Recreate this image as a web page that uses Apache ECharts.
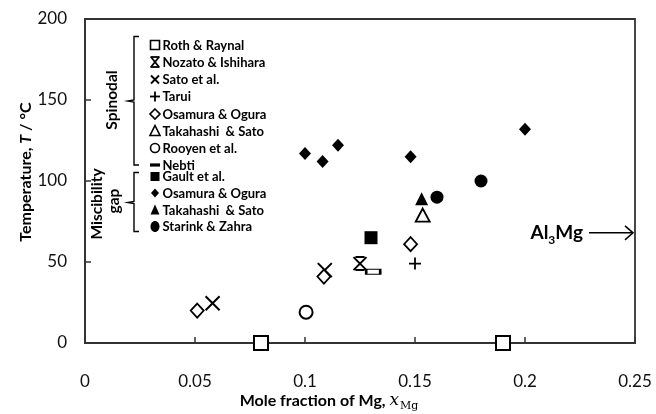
<!DOCTYPE html>
<html><head><meta charset="utf-8">
<script src="https://cdn.jsdelivr.net/npm/echarts@6/dist/echarts.min.js"></script>
<style>html,body{margin:0;padding:0;background:#fff}#c{width:656px;height:414px}</style>
</head><body><div id="c"></div>
<script>
// ---- data (x = mole fraction of Mg, y = temperature °C) ----
const rothRaynal      = [[0.080, 0], [0.190, 0]];
const nozatoIshihara  = [[0.125, 49]];
const satoEtAl        = [[0.058, 24.5], [0.109, 45]];
const tarui           = [[0.150, 49]];
const osamuraSpinodal = [[0.051, 20], [0.1086, 41], [0.148, 61]];
const takahashiSpin   = [[0.1535, 79]];
const rooyenEtAl      = [[0.1005, 19]];
const nebti           = [[0.131, 44]];
const gaultEtAl       = [[0.130, 65]];
const osamuraMisc     = [[0.100, 117], [0.108, 112], [0.115, 122], [0.148, 115], [0.200, 132]];
const takahashiMisc   = [[0.153, 89]];
const starinkZahra    = [[0.160, 90], [0.180, 100]];
const xTicks = [0, 0.05, 0.1, 0.15, 0.2, 0.25];
const yTicks = [0, 50, 100, 150, 200];
const al3MgX = 0.25, al3MgT = 68;

const FONT = 'Lato';
const K = '#000';
const X_PATH = 'path://M0,0L10,10M10,0L0,10';
const PLUS_PATH = 'path://M5,0L5,10M0,5L10,5';
const NOZ_PATH = 'path://M0,0L10,10M10,0L0,10M1.5,0L8.5,0M1.5,10L8.5,10';

function sc(name, data, symbol, size, filled, bw) {
  return {
    type: 'scatter', name, data, symbol, symbolSize: size,
    itemStyle: { color: filled ? K : (symbol.startsWith('path') ? 'rgba(0,0,0,0)' : '#fff'),
                 borderColor: K, borderWidth: filled ? 0 : (bw || 1.8), opacity: 1 },
    emphasis: { disabled: true }, z: 3
  };
}

const series = [
  sc('Roth & Raynal', rothRaynal, 'rect', 14, false, 2),
  sc('Nozato & Ishihara', nozatoIshihara, NOZ_PATH, [13, 13], false, 2),
  sc('Sato et al.', satoEtAl, X_PATH, [14, 14], false, 2),
  sc('Tarui', tarui, PLUS_PATH, [12, 12], false, 1.8),
  sc('Osamura & Ogura (spinodal)', osamuraSpinodal, 'diamond', [13, 14], false, 1.8),
  sc('Takahashi & Sato (spinodal)', takahashiSpin, 'triangle', [14, 13], false, 1.8),
  sc('Rooyen et al.', rooyenEtAl, 'circle', 13, false, 2),
  sc('Nebti', nebti, 'rect', [14, 5], false, 1.6),
  sc('Gault et al.', gaultEtAl, 'rect', 13, true),
  sc('Osamura & Ogura (miscibility)', osamuraMisc, 'diamond', [12, 13], true),
  sc('Takahashi & Sato (miscibility)', takahashiMisc, 'triangle', [13, 13], true),
  sc('Starink & Zahra', starinkZahra, 'circle', 13, true)
];

// legend (drawn as graphics)
const legendEntries = [
  ['Roth & Raynal', 'sqO'], ['Nozato & Ishihara', 'noz'], ['Sato et al.', 'x'], ['Tarui', 'plus'],
  ['Osamura & Ogura', 'diaO'], ['Takahashi  & Sato', 'triO'], ['Rooyen et al.', 'cirO'], ['Nebti', 'dash'],
  ['Gault et al.', 'sqF'], ['Osamura & Ogura', 'diaF'], ['Takahashi  & Sato', 'triF'], ['Starink & Zahra', 'cirF']
];
function legendSymbol(kind, cx, cy) {
  const s = 4.5, st = { stroke: K, lineWidth: 1.6, fill: '#fff' }, fl = { fill: K };
  switch (kind) {
    case 'sqO': return { type: 'rect', shape: { x: cx - s, y: cy - s, width: 2 * s, height: 2 * s }, style: st };
    case 'sqF': return { type: 'rect', shape: { x: cx - s, y: cy - s, width: 2 * s, height: 2 * s }, style: fl };
    case 'x': return { type: 'group', children: [
      { type: 'line', shape: { x1: cx - 4, y1: cy - 4, x2: cx + 4, y2: cy + 4 }, style: { stroke: K, lineWidth: 1.8 } },
      { type: 'line', shape: { x1: cx + 4, y1: cy - 4, x2: cx - 4, y2: cy + 4 }, style: { stroke: K, lineWidth: 1.8 } }] };
    case 'plus': return { type: 'group', children: [
      { type: 'line', shape: { x1: cx, y1: cy - 5, x2: cx, y2: cy + 5 }, style: { stroke: K, lineWidth: 1.8 } },
      { type: 'line', shape: { x1: cx - 5, y1: cy, x2: cx + 5, y2: cy }, style: { stroke: K, lineWidth: 1.8 } }] };
    case 'diaO': return { type: 'polygon', shape: { points: [[cx, cy - 5], [cx + 5, cy], [cx, cy + 5], [cx - 5, cy]] }, style: st };
    case 'diaF': return { type: 'polygon', shape: { points: [[cx, cy - 4.5], [cx + 4, cy], [cx, cy + 4.5], [cx - 4, cy]] }, style: fl };
    case 'triO': return { type: 'polygon', shape: { points: [[cx, cy - 5.5], [cx + 5, cy + 4.5], [cx - 5, cy + 4.5]] }, style: st };
    case 'triF': return { type: 'polygon', shape: { points: [[cx, cy - 5.5], [cx + 4.5, cy + 4.5], [cx - 4.5, cy + 4.5]] }, style: fl };
    case 'cirO': return { type: 'circle', shape: { cx, cy, r: 4.5 }, style: st };
    case 'cirF': return { type: 'ellipse', shape: { cx, cy, rx: 4.5, ry: 5.5 }, style: fl };
    case 'dash': return { type: 'rect', shape: { x: cx - 5, y: cy - 1.6, width: 10, height: 3.2 }, style: fl };
  }
}
function nozSymbol(cx, cy) {
  const o = { stroke: K, lineWidth: 1.8 };
  return { type: 'group', children: [
    { type: 'line', shape: { x1: cx - 4, y1: cy - 5, x2: cx + 4, y2: cy + 5 }, style: o },
    { type: 'line', shape: { x1: cx + 4, y1: cy - 5, x2: cx - 4, y2: cy + 5 }, style: o },
    { type: 'line', shape: { x1: cx - 4.5, y1: cy - 5, x2: cx + 4.5, y2: cy - 5 }, style: o },
    { type: 'line', shape: { x1: cx - 4.5, y1: cy + 5, x2: cx + 4.5, y2: cy + 5 }, style: o }] };
}

const graphics = [];
const legYs = [45, 62, 79.5, 96.5, 114, 131, 148, 165, 176.5, 193, 210, 226.5];
legendEntries.forEach((e, i) => {
  const cy = legYs[i];
  graphics.push(e[1] === 'noz' ? nozSymbol(155, cy) : legendSymbol(e[1], 155, cy));
  graphics.push({ type: 'text', x: 162.5, y: cy + 0.5,
    style: { text: e[0], font: 'bold 13px ' + FONT, fill: K, align: 'left', verticalAlign: 'middle' } });
});
// brackets
function bracket(y1, y2, ym) {
  return { type: 'polyline', shape: { points: [[139, y1], [134, y1], [134, ym - 1], [128, ym], [134, ym + 1], [134, y2], [139, y2]] },
           style: { stroke: K, lineWidth: 1.4, fill: null } };
}
graphics.push(bracket(36.5, 165, 101));
graphics.push(bracket(172.5, 231.5, 202.5));
graphics.push({ type: 'text', x: 112, y: 100, rotation: Math.PI / 2,
  style: { text: 'Spinodal', font: 'bold 15.5px ' + FONT, fill: K, align: 'center', verticalAlign: 'middle' } });
graphics.push({ type: 'text', x: 97, y: 204, rotation: Math.PI / 2,
  style: { text: 'Miscibility', font: 'bold 15.5px ' + FONT, fill: K, align: 'center', verticalAlign: 'middle' } });
graphics.push({ type: 'text', x: 114, y: 201, rotation: Math.PI / 2,
  style: { text: 'gap', font: 'bold 15.5px ' + FONT, fill: K, align: 'center', verticalAlign: 'middle' } });
// axis titles
graphics.push({ type: 'text', x: 26, y: 172, rotation: Math.PI / 2,
  style: { align: 'center', verticalAlign: 'middle', fill: K,
    text: '{a|Temperature, }{i|T}{a| / °C}',
    rich: { a: { font: 'bold 16px ' + FONT, fill: K }, i: { font: 'bold italic 16px ' + FONT, fill: K } } } });
graphics.push({ type: 'text', x: 329, y: 401,
  style: { align: 'center', verticalAlign: 'middle', fill: K,
    text: '{a|Mole fraction of Mg, }{i|x}{s|Mg}',
    rich: { a: { font: 'bold 16px ' + FONT, fill: K, lineHeight: 22, verticalAlign: 'middle' },
            i: { font: 'italic 17px "DejaVu Serif", serif', fill: K, lineHeight: 22, verticalAlign: 'middle' },
            s: { font: '11px "DejaVu Serif", serif', fill: K, lineHeight: 22, verticalAlign: 'bottom', padding: [0, 0, 0, 1] } } } });

const chart = echarts.init(document.getElementById('c'), null, { renderer: 'canvas' });
const option = {
  backgroundColor: '#fff',
  animation: false,
  grid: { left: 85, right: 21, top: 19, bottom: 71, show: true, borderColor: '#333', borderWidth: 1.8, backgroundColor: 'transparent' },
  xAxis: {
    type: 'value', min: xTicks[0], max: xTicks[xTicks.length - 1], interval: 0.05,
    axisLine: { show: true, onZero: false, lineStyle: { color: '#333', width: 1.8 } },
    axisTick: { show: true, inside: true, length: 6, lineStyle: { color: '#333', width: 1.5 } },
    splitLine: { show: false },
    axisLabel: { margin: 30, color: '#111', fontFamily: FONT, fontSize: 17, formatter: v => String(+v.toFixed(2)) }
  },
  yAxis: {
    type: 'value', min: yTicks[0], max: yTicks[yTicks.length - 1], interval: 50,
    axisLine: { show: true, lineStyle: { color: '#333', width: 1.8 } },
    axisTick: { show: true, inside: true, length: 6, lineStyle: { color: '#333', width: 1.5 } },
    splitLine: { show: false },
    axisLabel: { margin: 18, color: '#111', fontFamily: FONT, fontSize: 17 }
  },
  series,
  graphic: graphics
};
chart.setOption(option);

// Al3Mg annotation anchored to data coordinates
const tip = chart.convertToPixel({ gridIndex: 0 }, [al3MgX, al3MgT]);
const ax = tip[0] - 2, ay = tip[1];
graphics.push({ type: 'line', shape: { x1: ax - 44, y1: ay, x2: ax, y2: ay }, style: { stroke: K, lineWidth: 1.5 } });
graphics.push({ type: 'polyline', shape: { points: [[ax - 8, ay - 7], [ax, ay], [ax - 8, ay + 7]] }, style: { stroke: K, lineWidth: 1.5, fill: null } });
graphics.push({ type: 'text', x: ax - 50, y: ay, style: { align: 'right', verticalAlign: 'middle', fill: K,
  text: '{a|Al}{s|3}{a|Mg}',
  rich: { a: { font: 'bold 19px ' + FONT, fill: K, lineHeight: 26, verticalAlign: 'middle' },
          s: { font: 'bold 12px ' + FONT, fill: K, lineHeight: 26, verticalAlign: 'bottom' } } } });
chart.setOption({ graphic: graphics });
</script></body></html>
